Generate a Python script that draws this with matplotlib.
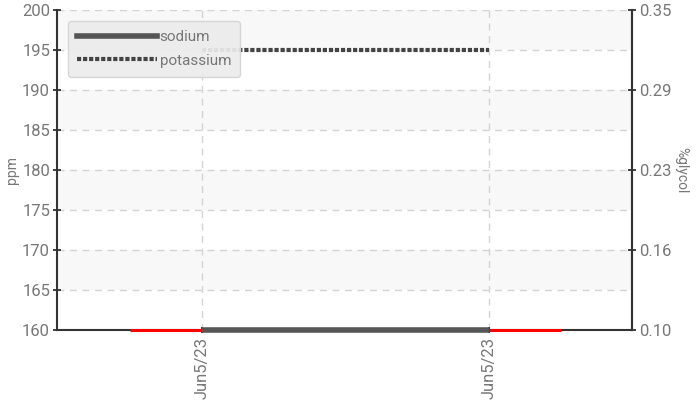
import matplotlib.pyplot as plt
from matplotlib.lines import Line2D

# data
dates = ['Jun5/23', 'Jun5/23']
x_pos = [0, 1]
sodium = [160, 160]
potassium = [195, 195]
limit_left_x = [-0.25, 0]
limit_right_x = [1, 1.25]
limit_y = [160, 160]
left_ticks = [160, 165, 170, 175, 180, 185, 190, 195, 200]
right_ticks = [0.10, 0.1625, 0.225, 0.2875, 0.35]
right_labels = ['0.10', '0.16', '0.23', '0.29', '0.35']

plt.rcParams['font.family'] = ['Roboto', 'DejaVu Sans']
txt = '#777777'
dark = '#333333'

fig = plt.figure(figsize=(6.97, 4.01), dpi=100)
ax = fig.add_axes([0.0818, 0.177, 0.825, 0.798])

# alternating bands
for lo in [165, 175, 185, 195]:
    ax.axhspan(lo, lo + 5, color='#f8f8f8', zorder=0, lw=0)

ax.plot(limit_left_x, limit_y, color='red', lw=2.2, zorder=6, solid_capstyle='butt', clip_on=False)
ax.plot(limit_right_x, limit_y, color='red', lw=2.2, zorder=6, solid_capstyle='butt', clip_on=False)
ax.plot(x_pos, sodium, color='#555555', lw=4, zorder=6, solid_capstyle='butt', clip_on=False)
ax.plot(x_pos, potassium, color='#444444', lw=3, linestyle=(0, (1, 0.45)), zorder=5)

ax.set_xlim(-0.505, 1.497)
ax.set_ylim(160, 200)
ax.set_yticks(left_ticks)
ax.set_xticks(x_pos)
ax.set_xticklabels(dates, rotation=90, color=txt, fontsize=12)
ax.tick_params(axis='y', direction='inout', length=6, width=1.3, color=dark,
               labelcolor=txt, labelsize=12, pad=2)
ax.tick_params(axis='x', direction='inout', length=4, width=1.3, color=dark, pad=3)
ax.grid(True, color='#d4d4d4', linestyle=(0, (5, 4)), lw=1)
ax.set_axisbelow(True)
ax.set_ylabel('ppm', color=txt, fontsize=10, labelpad=2)

for s in ['left', 'right', 'bottom']:
    ax.spines[s].set_color(dark)
    ax.spines[s].set_linewidth(1.5)
ax.spines['top'].set_visible(False)

ax2 = ax.twinx()
ax2.set_ylim(0.10, 0.35)
ax2.set_yticks(right_ticks)
ax2.set_yticklabels(right_labels)
ax2.tick_params(axis='y', direction='inout', length=6, width=1.3, color=dark,
                labelcolor=txt, labelsize=12, pad=2)
ax2.set_ylabel('%glycol', color=txt, fontsize=10, rotation=270, labelpad=12)
for s in ['left', 'top', 'bottom']:
    ax2.spines[s].set_visible(False)
ax2.spines['right'].set_color(dark)
ax2.spines['right'].set_linewidth(1.5)

handles = [Line2D([], [], color='#555555', lw=4),
           Line2D([], [], color='#444444', lw=3, linestyle=(0, (1, 0.45)))]
leg = ax2.legend(handles, ['sodium', 'potassium'], loc='upper left',
                 bbox_to_anchor=(0.019, 0.965), handlelength=5.2, handletextpad=0.2,
                 labelspacing=0.6, fontsize=11, frameon=True, fancybox=True,
                 borderpad=0.6, labelcolor=txt, borderaxespad=0)
leg.get_frame().set_facecolor('#ececec')
leg.get_frame().set_edgecolor('#d4d4d4')
leg.get_frame().set_alpha(0.92)
leg.set_zorder(10)

fig.savefig('out.png', dpi=100)
